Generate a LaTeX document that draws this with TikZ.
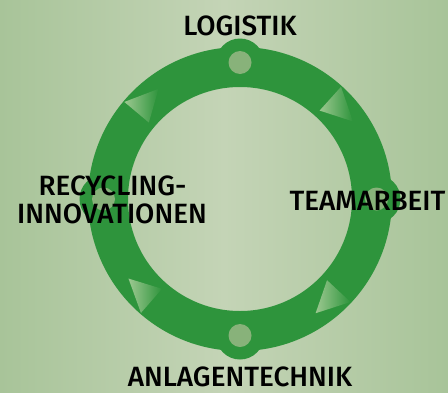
\documentclass[tikz,border=0pt]{standalone}
\usepackage{fontspec}
\setmainfont{Fira Sans}[UprightFont={* Medium}]
\definecolor{ringgreen}{HTML}{2E943C}
\definecolor{dotgreen}{HTML}{88B27A}
\definecolor{bgmid}{HTML}{C4D4B6}
\definecolor{bgedge}{HTML}{A8C499}
\definecolor{trilight}{HTML}{9CC890}
\begin{document}
\begin{tikzpicture}[x=1bp,y=1bp,
  lbl/.style={font=\fontsize{28}{28}\selectfont, text=black, inner sep=0pt, anchor=base},
  bumpc/.style={circle, fill=ringgreen, minimum size=48bp, inner sep=0pt},
  dotc/.style={circle, fill=dotgreen, minimum size=23bp, inner sep=0pt},
  arrowtri/.style={left color=trilight, right color=ringgreen}]
\useasboundingbox (0,0) rectangle (448,392);
\shade[left color=bgedge, right color=bgedge, middle color=bgmid] (0,0) rectangle (448,392);
\coordinate (C) at (240,193);
\draw[ringgreen, line width=40bp] (C) circle[radius=132];
\foreach \a/\n in {90/T,0/R,270/B,180/L} {
  \node[bumpc] (bump\n) at ([shift={(\a:136.5)}]C) {};
  \node[dotc] (dot\n) at (bump\n) {};
}
\foreach \b in {48,140,229,317} {
  \shade[arrowtri] ([shift={(\b:119)}]C) -- ([shift={(\b:151)}]C) -- ([shift={(\b-13.5:137)}]C) -- cycle;
}
\node[lbl] (logistik) at (240,357) {LOGISTIK};
\node[lbl] (recycling) at (112.5,197) {RECYCLING-};
\node[lbl] (innov) at (112,169) {INNOVATIONEN};
\node[lbl] (team) at (367.5,182) {TEAMARBEIT};
\node[lbl] (anlagen) at (240,6) {ANLAGENTECHNIK};
\end{tikzpicture}
\end{document}
